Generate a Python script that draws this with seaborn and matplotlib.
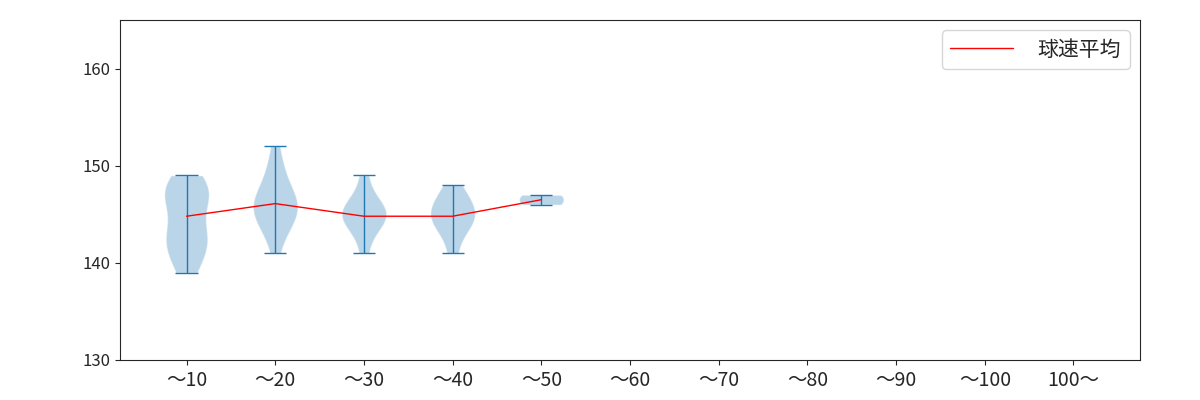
import numpy as np
import matplotlib
matplotlib.use("Agg")
import matplotlib.pyplot as plt
import seaborn as sns

sns.set_style("ticks")
plt.rcParams['font.family'] = ['Noto Sans CJK JP', 'DejaVu Sans']
plt.rcParams['lines.linewidth'] = 1.0

categories = ["～10", "～20", "～30", "～40", "～50", "～60", "～70", "～80", "～90", "～100", "100～"]
speeds = [
    [139, 140, 141, 142, 142, 143, 143, 144, 146, 147, 147, 147, 148, 148, 149],
    [141, 143, 144, 144, 145, 145, 146, 146, 146, 147, 147, 148, 149, 150, 152],
    [141, 143, 144, 144, 145, 145, 145, 146, 146, 147, 149],
    [141, 143, 144, 144, 145, 145, 146, 146, 147, 148],
    [146, 147],
]
mean_speed = [144.8, 146.1, 144.8, 144.8, 146.5]

fig, ax = plt.subplots(figsize=(12, 4), dpi=100)
positions = np.arange(1, len(speeds) + 1)
parts = ax.violinplot(speeds, positions=positions)
for key in ("cbars", "cmins", "cmaxes"):
    parts[key].set_linewidth(1.0)
sns.lineplot(x=positions, y=mean_speed, color="red", linewidth=1, ax=ax, label="球速平均")

ax.set_xticks(np.arange(1, len(categories) + 1))
ax.set_xticklabels(categories, fontsize=14)
ax.set_xlim(0.25, 11.75)
ax.set_ylim(130, 165)
ax.set_yticks([130, 140, 150, 160])
ax.tick_params(axis='y', labelsize=12)
ax.legend(loc="upper right", fontsize=15, handlelength=3, handletextpad=1.2)
fig.subplots_adjust(left=0.1, right=0.95, top=0.95, bottom=0.1)
fig.savefig("out.png")
